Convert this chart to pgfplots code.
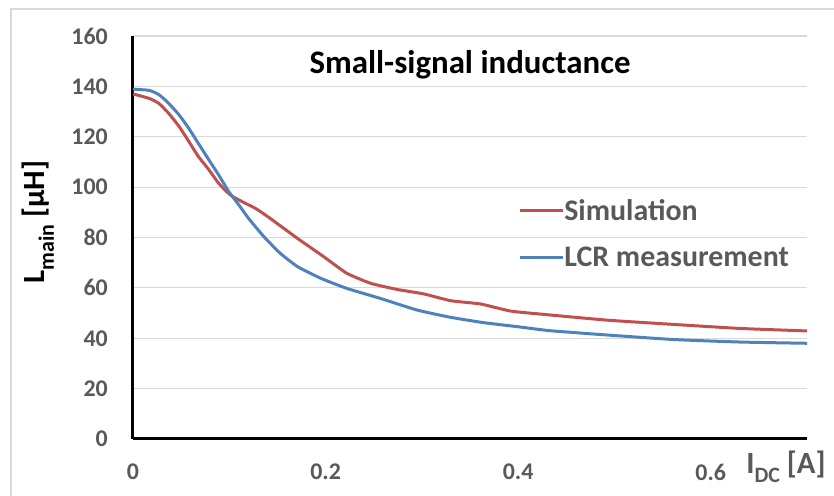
\documentclass[border=0pt]{standalone}
\usepackage{pgfplots}
\pgfplotsset{compat=1.18}
\usepackage{fontspec}
\setmainfont{Carlito}
\definecolor{simred}{HTML}{C0504D}
\definecolor{lcrblue}{HTML}{4F81BD}
\definecolor{txtgray}{HTML}{595959}
\definecolor{gridgray}{HTML}{D9D9D9}

\pgfplotstableread{
x      L
0.000  137.0
0.017  135.2
0.027  133.2
0.037  129.3
0.048  124.0
0.058  118.1
0.068  112.1
0.079  106.8
0.089  101.5
0.101   96.9
0.113   94.3
0.127   91.6
0.141   88.0
0.171   79.6
0.198   72.4
0.222   65.8
0.247   61.8
0.274   59.4
0.302   57.6
0.330   54.9
0.361   53.6
0.392   50.8
0.423   49.6
0.492   47.2
0.561   45.5
0.630   43.9
0.700   42.9
}\simdata

\pgfplotstableread{
x      L
0.000  138.9
0.017  138.4
0.027  136.7
0.037  133.3
0.048  128.6
0.058  123.3
0.068  117.3
0.079  110.7
0.089  104.8
0.0995  98.2
0.110   92.9
0.120   87.6
0.136   80.3
0.153   73.7
0.171   68.4
0.195   63.8
0.222   59.8
0.257   55.8
0.295   51.2
0.330   48.3
0.364   46.2
0.399   44.6
0.433   43.0
0.492   41.3
0.561   39.5
0.630   38.5
0.700   38.0
}\lcrdata

\begin{document}
\begin{tikzpicture}[x=1bp,y=1bp]
\useasboundingbox (-133,-57) rectangle (701,439);
% chart area frame
\draw[gridgray, line width=1.2bp] (-122,-57) -- (-122,430) -- (701,430);
\begin{axis}[
  at={(0,0)}, anchor=south west,
  scale only axis, width=674bp, height=403bp,
  xmin=0, xmax=0.7, ymin=0, ymax=160,
  axis x line*=bottom, axis y line*=left,
  axis line style={black, line width=3bp, -},
  xtick={0,0.2,0.4,0.6}, ytick={0,20,...,160},
  ymajorgrids, grid style={gridgray, line width=1.2bp},
  major tick length=0pt,
  /pgf/number format/assume math mode=true,
  ticklabel style={font=\fontsize{24}{28}\selectfont\bfseries, text=txtgray, inner sep=0pt},
  yticklabel style={anchor=east, xshift=-25bp},
  xticklabel style={anchor=center, yshift=-33bp},
  legend style={at={(rel axis cs:0.567,0.6)}, anchor=north west, draw=none, fill=none,
    font=\fontsize{30}{32}\selectfont\bfseries, text=txtgray, row sep=25bp,
    nodes={inner sep=0pt}},
  legend cell align=left,
  legend image code/.code={\draw[#1, line width=3bp] (0bp,0bp) -- (43bp,0bp);},
]
\addplot[simred, line width=3bp, smooth, tension=0.3] table[x=x, y=L] {\simdata};
\addlegendentry{Simulation}
\addplot[lcrblue, line width=3bp, smooth, tension=0.3] table[x=x, y=L] {\lcrdata};
\addlegendentry{LCR measurement}
\end{axis}
\node[font=\fontsize{33}{36}\selectfont\bfseries, text=black] at (337,374) {Small-signal inductance};
\node[rotate=90, font=\fontsize{31}{34}\selectfont\bfseries, text=black] at (-95,217)
  {L\raisebox{-0.3em}{\fontsize{22}{24}\selectfont main} [µH]};
\node[font=\fontsize{31}{34}\selectfont\bfseries, text=txtgray] at (653,-28)
  {I\raisebox{-0.3em}{\fontsize{22}{24}\selectfont DC} [A]};
\end{tikzpicture}
\end{document}
